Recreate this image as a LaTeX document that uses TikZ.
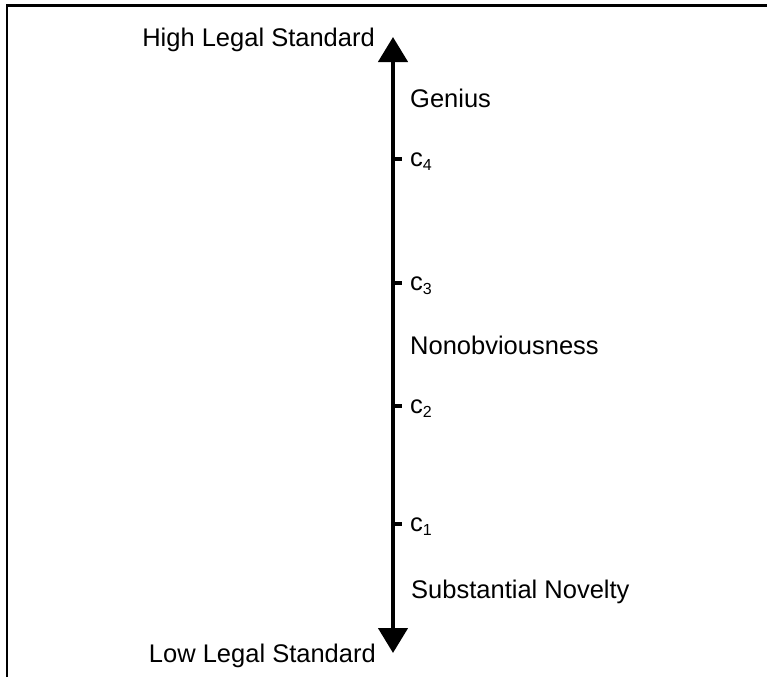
\documentclass[tikz,border=0pt]{standalone}
\usepackage{fontspec}
\setmainfont{Liberation Sans}
\usetikzlibrary{arrows.meta}
\newcommand{\csub}[1]{c\raisebox{-4pt}{\fontsize{16}{16}\selectfont #1}}
\begin{document}
\begin{tikzpicture}[x=1pt,y=-1pt,
  lbl/.style={inner sep=0pt,font=\fontsize{25.5}{27}\selectfont},
  tick/.style={line width=4pt},
  axis/.style={line width=4.5pt,{Triangle[width=29pt,length=25pt]}-{Triangle[width=29pt,length=25pt]}},
  frame/.style={line width=2.2pt}]
\useasboundingbox (0,0) rectangle (767,677);
% frame (top and left)
\coordinate (fL) at (7,677);
\coordinate (fC) at (7,5.5);
\coordinate (fR) at (767,5.5);
\draw[frame] (fL) -- (fC) -- (fR);
% axis
\coordinate (top) at (393,37);
\coordinate (bot) at (393,653);
\draw[axis] (bot) -- (top);
% ticks
\foreach \n/\y in {4/159,3/283,2/406,1/524}{
  \coordinate (t\n a) at (393,\y);
  \coordinate (t\n b) at (402,\y);
  \draw[tick] (t\n a) -- (t\n b);
  \node[lbl,anchor=base west] (c\n) at (410,\y+7) {\csub{\n}};
}
\node[lbl,anchor=base east] (high) at (375,47) {High Legal Standard};
\node[lbl,anchor=base east] (low) at (376,662) {Low Legal Standard};
\node[lbl,anchor=base west] (genius) at (410,107) {Genius};
\node[lbl,anchor=base west] (nonob) at (410,354) {Nonobviousness};
\node[lbl,anchor=base west] (subst) at (411,598) {Substantial Novelty};
\end{tikzpicture}
\end{document}
